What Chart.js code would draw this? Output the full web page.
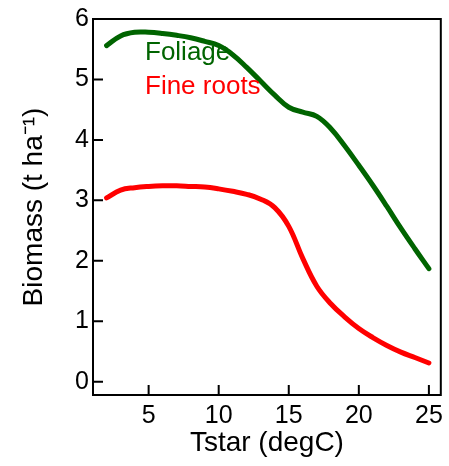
<!DOCTYPE html>
<html>
<head>
<meta charset="utf-8">
<script src="https://cdn.jsdelivr.net/npm/chart.js@4/dist/chart.umd.min.js"></script>
<style>
  html, body { margin: 0; padding: 0; background: #fff; }
</style>
</head>
<body>
<canvas id="chart" width="449" height="466"></canvas>
<script>
const tstar = [2, 3, 4, 5, 6, 7, 8, 9, 10, 11, 12, 13, 14, 15, 16, 17, 18, 19, 20, 21, 22, 23, 24, 25];
const foliage = [5.56, 5.72, 5.78, 5.78, 5.76, 5.73, 5.69, 5.63, 5.56, 5.41, 5.20, 4.97, 4.74, 4.54, 4.46, 4.39, 4.19, 3.90, 3.58, 3.25, 2.90, 2.54, 2.20, 1.87];
const fineRoots = [3.04, 3.17, 3.21, 3.23, 3.24, 3.24, 3.23, 3.22, 3.19, 3.15, 3.10, 3.02, 2.88, 2.57, 2.04, 1.58, 1.29, 1.07, 0.88, 0.73, 0.60, 0.49, 0.40, 0.31];
const xTicks = [5, 10, 15, 20, 25];
const yTicks = [0, 1, 2, 3, 4, 5, 6];

const font = "'Liberation Sans', Arial, sans-serif";

// box round the plot plus short inward ticks
const frame = {
  id: "frame",
  afterDraw(chart) {
    const ctx = chart.ctx;
    const a = chart.chartArea;
    const xs = chart.scales.x;
    const ys = chart.scales.y;
    ctx.save();
    ctx.strokeStyle = "#000";
    ctx.lineWidth = 2;
    ctx.strokeRect(a.left, a.top, a.right - a.left, a.bottom - a.top);
    ctx.beginPath();
    xTicks.forEach(v => {
      const px = xs.getPixelForValue(v);
      ctx.moveTo(px, a.bottom);
      ctx.lineTo(px, a.bottom - 10);
    });
    yTicks.forEach(v => {
      const py = ys.getPixelForValue(v);
      ctx.moveTo(a.left, py);
      ctx.lineTo(a.left + 10, py);
    });
    ctx.stroke();

    // text legend
    ctx.font = "26px " + font;
    ctx.textAlign = "left";
    ctx.textBaseline = "alphabetic";
    chart.data.datasets.forEach((ds, i) => {
      ctx.fillStyle = ds.borderColor;
      ctx.fillText(ds.label, a.left + 52, a.top + 41 + i * 34);
    });
    ctx.restore();
  }
};

new Chart(document.getElementById("chart"), {
  type: "line",
  data: {
    labels: tstar,
    datasets: [
      {
        label: "Foliage",
        data: tstar.map((x, i) => ({ x: x, y: foliage[i] })),
        borderColor: "#006400",
        borderWidth: 5,
        pointRadius: 0,
        tension: 0.4,
        borderCapStyle: "round",
      },
      {
        label: "Fine roots",
        data: tstar.map((x, i) => ({ x: x, y: fineRoots[i] })),
        borderColor: "#ff0000",
        borderWidth: 5,
        pointRadius: 0,
        tension: 0.4,
        borderCapStyle: "round",
      },
    ],
  },
  options: {
    responsive: false,
    animation: false,
    layout: { padding: { top: 6, right: 6, left: 0, bottom: 0 } },
    plugins: {
      legend: { display: false },
      tooltip: { enabled: false },
    },
    scales: {
      x: {
        type: "linear",
        min: 1.03,
        max: 25.85,
        afterBuildTicks: s => { s.ticks = xTicks.map(v => ({ value: v })); },
        afterFit: s => { s.height = 71; },
        grid: { display: false, drawTicks: false },
        border: { display: false },
        ticks: { color: "#000", font: { family: font, size: 25 }, padding: 6, maxRotation: 0 },
        title: {
          display: true,
          text: "Tstar (degC)",
          color: "#000",
          font: { family: font, size: 28 },
          padding: { top: 0, bottom: 6 },
        },
      },
      y: {
        min: -0.22,
        max: 6,
        afterBuildTicks: s => { s.ticks = yTicks.map(v => ({ value: v })); },
        afterFit: s => { s.width = 93; },
        grid: { display: false, drawTicks: false },
        border: { display: false },
        ticks: { color: "#000", font: { family: font, size: 25 }, padding: 4 },
        title: {
          display: true,
          text: "Biomass (t ha\u207B\u00B9)",
          color: "#000",
          font: { family: font, size: 28 },
          padding: { top: 17, bottom: 0 },
        },
      },
    },
  },
  plugins: [frame],
});
</script>
</body>
</html>
